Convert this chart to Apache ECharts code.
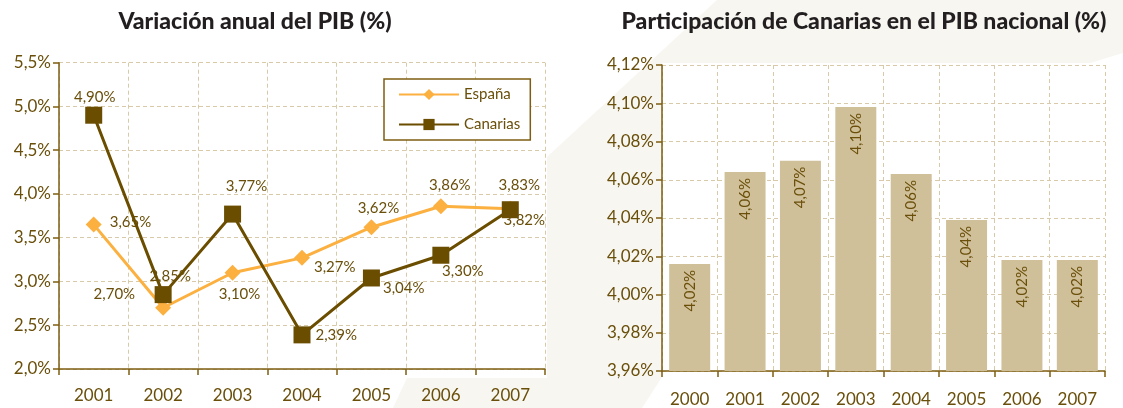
<!DOCTYPE html>
<html>
<head>
<meta charset="utf-8">
<script src="https://cdn.jsdelivr.net/npm/echarts@6/dist/echarts.min.js"></script>
<style>
html,body{margin:0;padding:0;background:#f7f6f1;}
#c{width:1123px;height:408px;}
</style>
</head>
<body>
<div id="c"></div>
<script>
// ---- data ----
const lineYears = ['2001','2002','2003','2004','2005','2006','2007'];
const espana   = [3.65, 2.70, 3.10, 3.27, 3.62, 3.86, 3.83];
const canarias = [4.90, 2.85, 3.77, 2.39, 3.04, 3.30, 3.82];
const barYears = ['2000','2001','2002','2003','2004','2005','2006','2007'];
const share    = [4.016, 4.064, 4.070, 4.098, 4.063, 4.039, 4.018, 4.018];
const leftTicks = {min: 2.0, max: 5.5, step: 0.5};
const rightTicks = {min: 3.96, max: 4.12, step: 0.02};

// ---- label placement (style only) ----
const espLabelPos = [
  {position:'right', distance:8, offset:[0,-2]},
  {position:'left', distance:20, offset:[0,-14]},
  {position:'bottom', distance:6, offset:[7,0]},
  {position:'right', distance:4, offset:[0,9]},
  {position:'top', distance:4, offset:[7,0]},
  {position:'top', distance:6, offset:[9,0]},
  {position:'top', distance:8, offset:[9,0]}
];
const canLabelPos = [
  {position:'top', distance:2, offset:[1,0]},
  {position:'top', distance:2, offset:[7,0]},
  {position:'top', distance:12, offset:[14,0]},
  {position:'right', distance:5, offset:[0,0]},
  {position:'right', distance:3, offset:[0,10]},
  {position:'bottom', distance:0, offset:[22,0]},
  {position:'bottom', distance:0, offset:[14,-6]}
];

const FONT = 'Lato, "Open Sans", sans-serif';
const TXT = '#6a4f0a';
const AXIS = '#7d5e12';
const GRIDC = '#d8c9a8';
const fmt = (v, d) => v.toFixed(d).replace('.', ',') + '%';

const chart = echarts.init(document.getElementById('c'), null, {renderer:'canvas'});
chart.setOption({
  backgroundColor: '#f7f6f1',
  animation: false,
  graphic: [
    {type:'polygon', z:-100, silent:true,
     shape:{points:[[0,0],[717,0],[547,157],[547,378],[407,378],[393,408],[0,408]]},
     style:{fill:'#ffffff'}},
    {type:'polygon', z:-100, silent:true,
     shape:{points:[[662,63],[1090,63],[1123,53],[1123,408],[642,408],[662,377]]},
     style:{fill:'#ffffff'}}
  ],
  title: [
    {text:'Variación anual del PIB (%)', left:250, top:5, textAlign:'center',
     textStyle:{fontFamily:FONT, fontWeight:900, fontSize:23, color:'#231f20'}},
    {text:'Participación de Canarias en el PIB nacional (%)', left:859, top:5, textAlign:'center',
     textStyle:{fontFamily:FONT, fontWeight:900, fontSize:23, color:'#231f20'}}
  ],
  legend: {
    left: 384, top: 79, orient: 'vertical',
    data: ['España','Canarias'],
    itemWidth: 60, itemHeight: 14, itemGap: 15,
    padding: [8, 10, 8, 14],
    borderColor: AXIS, borderWidth: 1.5, backgroundColor: '#fff',
    textStyle: {fontFamily: FONT, fontSize: 15, color: TXT}
  },
  grid: [
    {left:59, right:578, top:62.7, bottom:39, containLabel:false},
    {left:662, right:18, top:65, bottom:36, containLabel:false}
  ],
  xAxis: [
    {type:'category', gridIndex:0, data: lineYears, boundaryGap:true,
     axisLine:{lineStyle:{color:AXIS, width:1.5}},
     axisTick:{show:true, length:6, lineStyle:{color:AXIS, width:1.5}},
     axisLabel:{fontFamily:FONT, fontSize:17, color:TXT, margin:18},
     splitLine:{show:true, lineStyle:{color:GRIDC, type:[4,3], width:1}}},
    {type:'category', gridIndex:1, data: barYears, boundaryGap:true,
     axisLine:{lineStyle:{color:AXIS, width:1.5}},
     axisTick:{show:true, length:6, lineStyle:{color:AXIS, width:1.5}},
     axisLabel:{fontFamily:FONT, fontSize:17, color:TXT, margin:20},
     splitLine:{show:true, lineStyle:{color:GRIDC, type:[4,3], width:1}}}
  ],
  yAxis: [
    {type:'value', gridIndex:0, min:leftTicks.min, max:leftTicks.max, interval:leftTicks.step,
     axisLine:{show:true, lineStyle:{color:AXIS, width:1.5}},
     axisTick:{show:true, length:6, lineStyle:{color:AXIS, width:1.5}},
     axisLabel:{fontFamily:FONT, fontSize:17, color:TXT, margin:8, formatter:v=>fmt(v,1)},
     splitLine:{show:true, lineStyle:{color:GRIDC, type:[4,3], width:1}}},
    {type:'value', gridIndex:1, min:rightTicks.min, max:rightTicks.max, interval:rightTicks.step,
     axisLine:{show:true, lineStyle:{color:AXIS, width:1.5}},
     axisTick:{show:true, length:6, lineStyle:{color:AXIS, width:1.5}},
     axisLabel:{fontFamily:FONT, fontSize:17, color:TXT, margin:8, formatter:v=>fmt(v,2)},
     splitLine:{show:true, lineStyle:{color:GRIDC, type:[4,3], width:1}}}
  ],
  series: [
    {name:'España', type:'line', xAxisIndex:0, yAxisIndex:0,
     data: espana.map((v,i)=>({value:v, label:espLabelPos[i]})),
     symbol:'diamond', symbolSize:16, z:3,
     lineStyle:{color:'#fbb040', width:3}, itemStyle:{color:'#fbb040'},
     label:{show:true, fontFamily:FONT, fontSize:15, color:TXT, formatter:p=>fmt(p.value,2)}},
    {name:'Canarias', type:'line', xAxisIndex:0, yAxisIndex:0,
     data: canarias.map((v,i)=>({value:v, label:canLabelPos[i]})),
     symbol:'rect', symbolSize:17, z:4,
     lineStyle:{color:'#6b4d00', width:3}, itemStyle:{color:'#6b4d00'},
     label:{show:true, fontFamily:FONT, fontSize:15, color:TXT, formatter:p=>fmt(p.value,2)}},
    {name:'Participación', type:'bar', xAxisIndex:1, yAxisIndex:1,
     data: share, barCategoryGap:'26%',
     itemStyle:{color:'#d0c09a'},
     label:{show:true, position:'insideTop', rotate:90, align:'right', verticalAlign:'middle', distance:6,
            fontFamily:FONT, fontSize:15, color:TXT, formatter:p=>fmt(p.value,2)}}
  ]
});
</script>
</body>
</html>
